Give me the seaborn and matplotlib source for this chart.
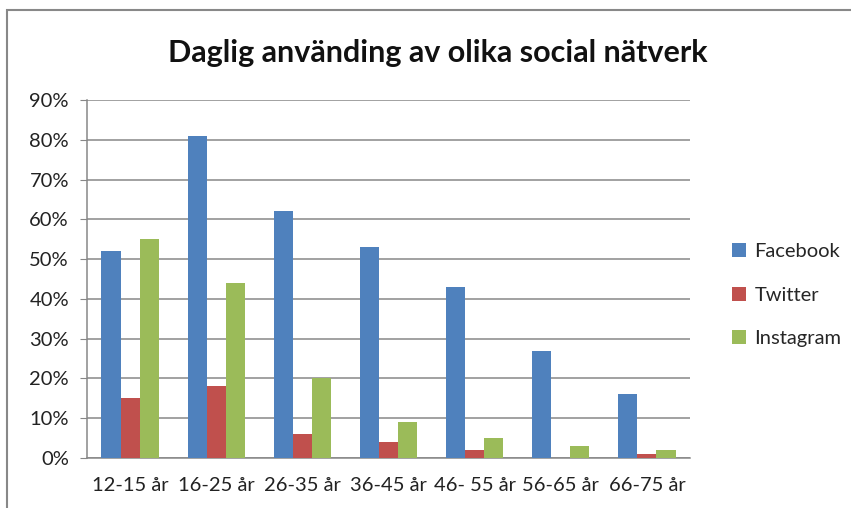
import pandas as pd
import numpy as np
import matplotlib.pyplot as plt
import seaborn as sns
from matplotlib.patches import Rectangle
from matplotlib.ticker import PercentFormatter

groups = ['12-15 år', '16-25 år', '26-35 år', '36-45 år', '46- 55 år', '56-65 år', '66-75 år']
facebook = [52, 81, 62, 53, 43, 27, 16]
twitter = [15, 18, 6, 4, 2, 0, 1]
instagram = [55, 44, 20, 9, 5, 3, 2]
series = ['Facebook', 'Twitter', 'Instagram']
colors = ['#4F81BD', '#C0504D', '#9BBB59']

data = pd.DataFrame({'Facebook': facebook, 'Twitter': twitter, 'Instagram': instagram}, index=groups)
data = data.reset_index().melt(id_vars='index', var_name='Nätverk', value_name='Andel')
data.columns = ['Grupp', 'Nätverk', 'Andel']

sns.set_style('white')
plt.rcParams['font.family'] = ['Lato', 'DejaVu Sans']

fig = plt.figure(figsize=(8.51, 5.08), dpi=100)
ax = fig.add_axes([87 / 851, 1 - 458 / 508, 603 / 851, 358 / 508])

sns.barplot(data=data, x='Grupp', y='Andel', hue='Nätverk', hue_order=series,
            palette=colors, width=0.665, saturation=1, linewidth=0, ax=ax, zorder=3)

ax.set_ylim(0, 90)
ax.set_yticks(range(0, 91, 10))
ax.yaxis.set_major_formatter(PercentFormatter(decimals=0))
ax.grid(axis='y', color='#878787', linewidth=1.1, zorder=0)
ax.set_axisbelow(True)
ax.set_xlabel('')
ax.set_ylabel('')
for s in ['top', 'right']:
    ax.spines[s].set_visible(False)
for s in ['left', 'bottom']:
    ax.spines[s].set_color('#878787')
    ax.spines[s].set_linewidth(1.1)
ax.tick_params(axis='y', left=True, length=5, color='#878787', labelsize=14.5, pad=8)
ax.tick_params(axis='x', bottom=False, labelsize=14.5, pad=10)
for lbl in ax.get_xticklabels() + ax.get_yticklabels():
    lbl.set_color('#222222')

ax.legend(loc='center left', bbox_to_anchor=(1.04, 0.455), frameon=False,
          fontsize=14.5, handlelength=0.7, handleheight=0.7, handletextpad=0.4,
          labelspacing=1.3)

fig.text(0.514, 1 - 53 / 508, 'Daglig använding av olika social nätverk',
         ha='center', va='center', fontsize=22, fontweight='bold', color='#111111')

fig.patches.append(Rectangle((7 / 851, -0.1), 1.2, 1 - 10 / 508 + 0.1, transform=fig.transFigure,
                             fill=False, edgecolor='#888888', linewidth=1.5))

fig.savefig('out.png', dpi=100)
